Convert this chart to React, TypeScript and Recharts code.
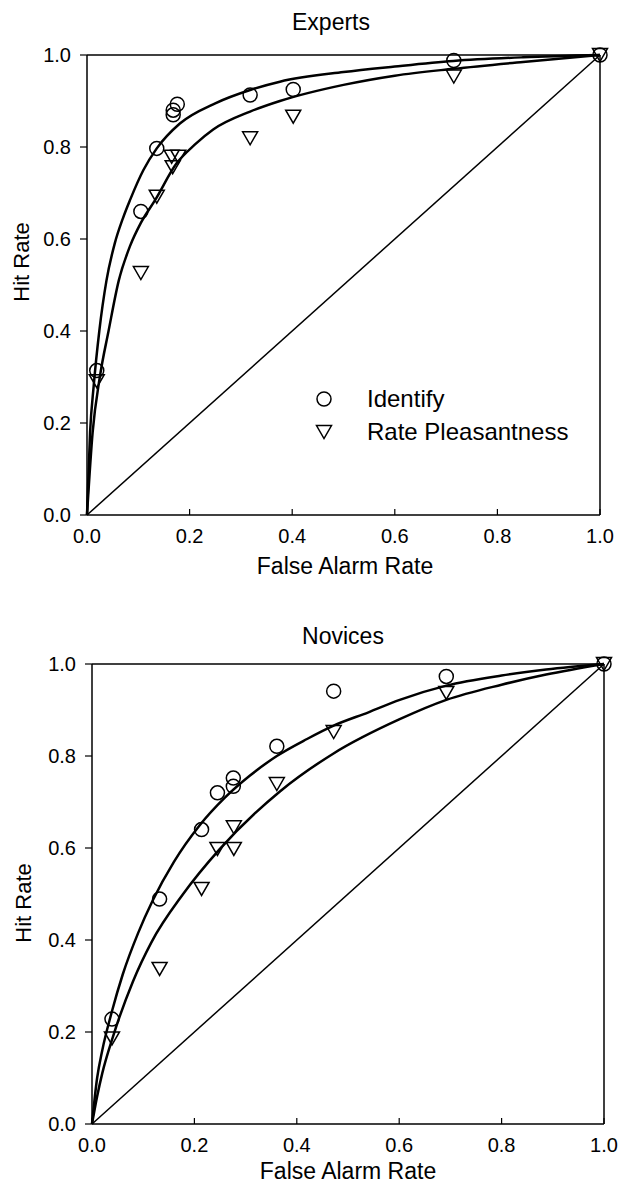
import React from "react";
import {
  ComposedChart,
  Line,
  Scatter,
  XAxis,
  YAxis,
  ReferenceLine,
  Legend,
} from "recharts";

const FONT = '"Liberation Sans", Arial, Helvetica, sans-serif';

// tick labels
const axisTicks = [0, 0.2, 0.4, 0.6, 0.8, 1.0];

// Experts - observed points
const expIdentifyFA = [0.019, 0.105, 0.136, 0.168, 0.168, 0.176, 0.318, 0.402, 0.715, 1.0];
const expIdentifyHit = [0.314, 0.66, 0.797, 0.87, 0.88, 0.893, 0.913, 0.925, 0.988, 1.0];
const expPleasantFA = [0.019, 0.105, 0.136, 0.167, 0.165, 0.178, 0.318, 0.402, 0.715, 1.0];
const expPleasantHit = [0.291, 0.526, 0.692, 0.756, 0.779, 0.779, 0.819, 0.866, 0.953, 1.0];

// Experts - fitted curves
const expIdentifyCurveFA = [0, 0.006, 0.013, 0.024, 0.038, 0.054, 0.07, 0.084, 0.11, 0.136, 0.181, 0.25, 0.318, 0.376, 0.5, 0.6, 0.714, 0.85, 1.0];
const expIdentifyCurveHit = [0, 0.18, 0.28, 0.4, 0.51, 0.59, 0.645, 0.685, 0.75, 0.797, 0.851, 0.895, 0.924, 0.942, 0.963, 0.975, 0.987, 0.995, 1.0];
const expPleasantCurveFA = [0, 0.011, 0.025, 0.042, 0.062, 0.084, 0.105, 0.133, 0.175, 0.21, 0.246, 0.318, 0.376, 0.5, 0.6, 0.714, 0.85, 1.0];
const expPleasantCurveHit = [0, 0.18, 0.3, 0.4, 0.51, 0.585, 0.635, 0.685, 0.765, 0.805, 0.838, 0.877, 0.9, 0.935, 0.955, 0.97, 0.985, 1.0];

// Novices - observed points
const novIdentifyFA = [0.039, 0.132, 0.214, 0.245, 0.276, 0.276, 0.361, 0.472, 0.692, 1.0];
const novIdentifyHit = [0.228, 0.489, 0.64, 0.72, 0.734, 0.752, 0.821, 0.941, 0.973, 1.0];
const novPleasantFA = [0.039, 0.132, 0.214, 0.245, 0.277, 0.277, 0.361, 0.472, 0.692, 1.0];
const novPleasantHit = [0.186, 0.337, 0.511, 0.598, 0.598, 0.645, 0.739, 0.852, 0.937, 1.0];

// Novices - fitted curves
const novIdentifyCurveFA = [0, 0.01, 0.02, 0.039, 0.06, 0.09, 0.119, 0.16, 0.21, 0.26, 0.308, 0.361, 0.42, 0.472, 0.54, 0.601, 0.692, 0.8, 0.887, 1.0];
const novIdentifyCurveHit = [0, 0.1, 0.16, 0.245, 0.325, 0.415, 0.487, 0.57, 0.649, 0.71, 0.757, 0.8, 0.837, 0.866, 0.895, 0.922, 0.953, 0.975, 0.988, 1.0];
const novPleasantCurveFA = [0, 0.01, 0.02, 0.041, 0.08, 0.116, 0.178, 0.249, 0.367, 0.471, 0.601, 0.692, 0.8, 0.887, 1.0];
const novPleasantCurveHit = [0, 0.06, 0.11, 0.19, 0.31, 0.395, 0.5, 0.597, 0.723, 0.805, 0.88, 0.922, 0.955, 0.977, 1.0];

const chanceFA = [0, 1];
const chanceHit = [0, 1];

const zip = (xs: number[], ys: number[]) => xs.map((x, i) => ({ x, y: ys[i] }));

function OpenCircle(props: any) {
  const { cx, cy } = props;
  if (cx == null || cy == null) return null;
  return <circle cx={cx} cy={cy} r={7} fill="none" stroke="#000" strokeWidth={1.5} />;
}

function DownTriangle(props: any) {
  const { cx, cy } = props;
  if (cx == null || cy == null) return null;
  const pts = `${cx - 7.5},${cy - 6.5} ${cx + 7.5},${cy - 6.5} ${cx},${cy + 6.5}`;
  return <polygon points={pts} fill="none" stroke="#000" strokeWidth={1.5} />;
}

// x ticks point into the plot
function InnerXTick(props: any) {
  const { x, y, payload } = props;
  return (
    <g>
      <line x1={x} x2={x} y1={y} y2={y - 6} stroke="#000" strokeWidth={1.2} />
      <text x={x} y={y + 28} textAnchor="middle" fontSize={20} fontFamily={FONT} fill="#000">
        {Number(payload.value).toFixed(1)}
      </text>
    </g>
  );
}

function RocLegend() {
  const row = (icon: React.ReactNode, label: string) => (
    <div style={{ display: "flex", alignItems: "center", height: 33 }}>
      <svg width={20} height={20} style={{ marginRight: 33 }}>
        {icon}
      </svg>
      <span style={{ fontSize: 24, fontFamily: FONT, color: "#000" }}>{label}</span>
    </div>
  );
  return (
    <div>
      {row(<circle cx={10} cy={10} r={7} fill="none" stroke="#000" strokeWidth={1.5} />, "Identify")}
      {row(<polygon points="2.5,3.5 17.5,3.5 10,16.5" fill="none" stroke="#000" strokeWidth={1.5} />, "Rate Pleasantness")}
    </div>
  );
}

interface PanelProps {
  identify: { x: number; y: number }[];
  pleasant: { x: number; y: number }[];
  identifyCurve: { x: number; y: number }[];
  pleasantCurve: { x: number; y: number }[];
  yAxisWidth: number;
  marginTop: number;
  marginRight: number;
  height: number;
  showLegend?: boolean;
}

function RocPanel(p: PanelProps) {
  return (
    <ComposedChart
      width={618}
      height={p.height}
      margin={{ top: p.marginTop, right: p.marginRight, bottom: 0, left: 0 }}
    >
      <XAxis
        type="number"
        dataKey="x"
        domain={[0, 1]}
        ticks={axisTicks}
        tick={<InnerXTick />}
        tickLine={false}
        tickSize={0}
        tickMargin={0}
        height={40}
        axisLine={{ stroke: "#000", strokeWidth: 1.5 }}
      />
      <YAxis
        type="number"
        dataKey="y"
        domain={[0, 1]}
        ticks={axisTicks}
        tickFormatter={(v) => Number(v).toFixed(1)}
        width={p.yAxisWidth}
        tickSize={7}
        tickMargin={9}
        tick={{ fontSize: 20, fontFamily: FONT, fill: "#000" }}
        tickLine={{ stroke: "#000", strokeWidth: 1.2 }}
        axisLine={{ stroke: "#000", strokeWidth: 1.5 }}
      />
      <ReferenceLine y={1} stroke="#000" strokeWidth={1.5} />
      <ReferenceLine x={1} stroke="#000" strokeWidth={1.5} />
      <Line
        data={zip(chanceFA, chanceHit)}
        dataKey="y"
        type="linear"
        stroke="#000"
        strokeWidth={1.5}
        dot={false}
        isAnimationActive={false}
        legendType="none"
      />
      <Line
        data={p.identifyCurve}
        dataKey="y"
        type="monotone"
        stroke="#000"
        strokeWidth={2.5}
        dot={false}
        isAnimationActive={false}
        legendType="none"
      />
      <Line
        data={p.pleasantCurve}
        dataKey="y"
        type="monotone"
        stroke="#000"
        strokeWidth={2.5}
        dot={false}
        isAnimationActive={false}
        legendType="none"
      />
      <Scatter name="Identify" data={p.identify} dataKey="y" shape={<OpenCircle />} isAnimationActive={false} />
      <Scatter name="Rate Pleasantness" data={p.pleasant} dataKey="y" shape={<DownTriangle />} isAnimationActive={false} />
      {p.showLegend && (
        <Legend
          layout="vertical"
          align="center"
          verticalAlign="middle"
          content={<RocLegend />}
          wrapperStyle={{ left: 314, top: 382, width: 290, height: 66 }}
        />
      )}
    </ComposedChart>
  );
}

const textBase: React.CSSProperties = {
  position: "absolute",
  fontFamily: FONT,
  color: "#000",
  lineHeight: 1,
  whiteSpace: "nowrap",
};

export default function App() {
  return (
    <div style={{ position: "absolute", left: 0, top: 0, width: 618, height: 1185, background: "#fff", overflow: "hidden" }}>
      {/* Experts */}
      <div style={{ position: "absolute", left: 0, top: 0 }}>
        <RocPanel
          identify={zip(expIdentifyFA, expIdentifyHit)}
          pleasant={zip(expPleasantFA, expPleasantHit)}
          identifyCurve={zip(expIdentifyCurveFA, expIdentifyCurveHit)}
          pleasantCurve={zip(expPleasantCurveFA, expPleasantCurveHit)}
          yAxisWidth={87}
          marginTop={55}
          marginRight={18}
          height={555}
          showLegend
        />
      </div>
      <div style={{ ...textBase, fontSize: 23, left: 331, top: 11, transform: "translateX(-50%)" }}>Experts</div>
      <div style={{ ...textBase, fontSize: 23, left: 345, top: 555, transform: "translateX(-50%)" }}>False Alarm Rate</div>
      <div style={{ ...textBase, fontSize: 22, left: 22, top: 262, transform: "translate(-50%, -50%) rotate(-90deg)" }}>Hit Rate</div>

      {/* Novices */}
      <div style={{ position: "absolute", left: 0, top: 600 }}>
        <RocPanel
          identify={zip(novIdentifyFA, novIdentifyHit)}
          pleasant={zip(novPleasantFA, novPleasantHit)}
          identifyCurve={zip(novIdentifyCurveFA, novIdentifyCurveHit)}
          pleasantCurve={zip(novPleasantCurveFA, novPleasantCurveHit)}
          yAxisWidth={92}
          marginTop={64}
          marginRight={14}
          height={564}
        />
      </div>
      <div style={{ ...textBase, fontSize: 23, left: 343, top: 625, transform: "translateX(-50%)" }}>Novices</div>
      <div style={{ ...textBase, fontSize: 23, left: 348, top: 1160, transform: "translateX(-50%)" }}>False Alarm Rate</div>
      <div style={{ ...textBase, fontSize: 22, left: 24, top: 903, transform: "translate(-50%, -50%) rotate(-90deg)" }}>Hit Rate</div>
    </div>
  );
}
